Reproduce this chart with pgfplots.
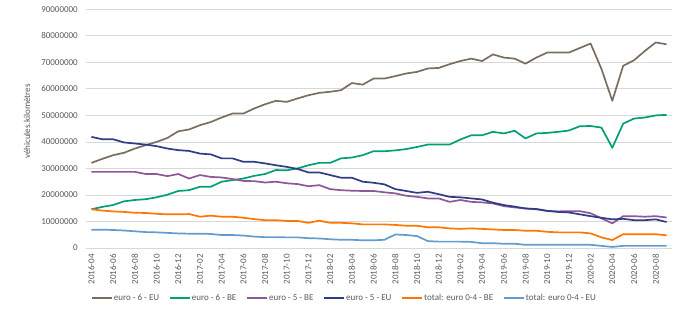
\documentclass[border=0pt]{standalone}
\usepackage{fontspec}
\setmainfont{Carlito}
\usepackage{pgfplots}
\usepackage{pgfplotstable}
\pgfplotsset{compat=1.18}
\definecolor{ceusix}{RGB}{122,110,96}
\definecolor{cbesix}{RGB}{0,160,118}
\definecolor{cbefive}{RGB}{140,88,152}
\definecolor{ceufive}{RGB}{48,60,132}
\definecolor{cbezf}{RGB}{255,118,0}
\definecolor{ceuzf}{RGB}{98,155,205}
\definecolor{txtgray}{RGB}{89,89,89}
\definecolor{gridgray}{RGB}{217,217,217}

\pgfplotstableread{
idx eusix besix befive eufive bezf euzf
0  32.1 14.6 28.7 41.9 14.6 6.9
1  33.6 15.5 28.7 41.0 14.1 6.9
2  35.0 16.2 28.7 41.0 13.8 6.8
3  35.9 17.6 28.7 39.8 13.6 6.6
4  37.5 18.1 28.7 39.4 13.3 6.3
5  38.8 18.4 27.9 39.0 13.2 6.0
6  40.0 19.1 27.9 38.4 12.9 5.9
7  41.5 20.1 27.1 37.5 12.7 5.7
8  44.0 21.5 27.9 36.9 12.7 5.5
9  44.7 21.8 26.2 36.6 12.8 5.4
10 46.3 23.1 27.5 35.6 11.8 5.4
11 47.5 23.1 26.8 35.3 12.2 5.3
12 49.2 25.0 26.6 33.8 11.8 4.9
13 50.7 25.6 26.0 33.8 11.8 4.9
14 50.7 26.2 25.3 32.5 11.4 4.7
15 52.6 27.2 25.2 32.5 10.9 4.3
16 54.2 27.9 24.7 31.9 10.5 4.1
17 55.5 29.4 25.0 31.2 10.5 4.1
18 55.1 29.3 24.4 30.6 10.2 4.0
19 56.4 30.0 24.1 29.8 10.2 4.0
20 57.6 31.2 23.3 28.5 9.5 3.7
21 58.5 32.1 23.7 28.5 10.3 3.6
22 58.9 32.1 22.2 27.5 9.5 3.3
23 59.5 33.8 21.8 26.5 9.5 3.1
24 62.2 34.1 21.6 26.5 9.3 3.1
25 61.6 35.0 21.5 25.0 8.9 2.9
26 63.9 36.5 21.5 24.6 8.9 2.9
27 63.9 36.5 21.0 24.0 8.9 3.1
28 64.8 36.8 20.6 22.2 8.7 5.1
29 65.8 37.3 19.7 21.5 8.4 4.9
30 66.4 38.1 19.3 20.8 8.4 4.5
31 67.7 39.0 18.7 21.2 7.8 2.6
32 67.9 39.0 18.7 20.3 7.8 2.4
33 69.3 39.0 17.4 19.3 7.4 2.4
34 70.5 40.9 18.1 19.1 7.2 2.4
35 71.4 42.5 17.4 18.7 7.4 2.3
36 70.5 42.5 17.2 18.3 7.2 1.8
37 73.0 43.8 16.8 17.1 7.0 1.8
38 71.8 43.2 15.8 16.2 6.8 1.6
39 71.4 44.2 15.3 15.6 6.8 1.6
40 69.5 41.3 14.9 14.9 6.5 1.2
41 71.8 43.2 14.6 14.7 6.5 1.2
42 73.7 43.4 14.0 14.0 6.1 1.2
43 73.7 43.8 13.8 13.6 5.9 1.2
44 73.7 44.3 13.9 13.4 5.9 1.2
45 75.4 45.9 13.9 12.7 5.9 1.2
46 77.1 46.0 13.1 12.0 5.5 1.2
47 67.5 45.4 11.2 11.4 4.0 0.8
48 55.5 37.8 9.3 10.8 3.0 0.4
49 68.7 46.9 12.0 11.0 5.2 0.8
50 70.8 48.8 12.0 10.5 5.2 0.8
51 74.3 49.2 11.8 10.5 5.2 0.8
52 77.5 50.0 12.0 10.8 5.2 0.8
53 76.8 50.2 11.5 9.8 4.8 0.8
}\datatable

\begin{document}
\begin{tikzpicture}
\path[use as bounding box] (-86pt,-87pt) rectangle (614pt,248pt);
\begin{axis}[
  at={(0pt,0pt)}, anchor=south west,
  scale only axis,
  width=586pt, height=238.7pt,
  xmin=-0.5, xmax=53.5,
  ymin=0, ymax=90,
  axis line style={draw=none},
  major tick length=0pt,
  ymajorgrids,
  grid style={gridgray, line width=0.8pt},
  xtick={0,2,...,52},
  xticklabels={2016-04,2016-06,2016-08,2016-10,2016-12,2017-02,2017-04,2017-06,2017-08,2017-10,2017-12,2018-02,2018-04,2018-06,2018-08,2018-10,2018-12,2019-02,2019-04,2019-06,2019-08,2019-10,2019-12,2020-02,2020-04,2020-06,2020-08},
  ytick={0,10,...,90},
  yticklabels={0,10000000,20000000,30000000,40000000,50000000,60000000,70000000,80000000,90000000},
  /pgf/number format/assume math mode=true,
  tick label style={font=\fontsize{9}{10}\selectfont, text=txtgray},
  xticklabel style={rotate=90, anchor=east, inner sep=0pt, yshift=0pt, xshift=-6pt},
  yticklabel style={anchor=east, inner sep=0pt, xshift=-8pt},
  ylabel={véhicules.kilomètres},
  ylabel style={at={(axis description cs:-0.1007,0.53)}, anchor=center, font=\fontsize{9}{10}\selectfont, text=txtgray},
  legend columns=6,
  legend cell align=left,
  legend style={draw=none, fill=none, inner sep=0pt, at={(axis description cs:0.0085,-0.2095)}, anchor=west,
    font=\fontsize{9}{10}\selectfont, text=txtgray,
    nodes={inner sep=1pt},
    /tikz/every even column/.append style={column sep=9pt},
    /tikz/every odd column/.append style={column sep=0pt}},
  legend image code/.code={\draw[#1] (0pt,0pt) -- (20pt,0pt);},
  every axis plot/.append style={line width=1.7pt, mark=none, line join=round},
]
\addplot[ceusix] table[x=idx,y=eusix]{\datatable};
\addlegendentry{euro - 6 - EU}
\addplot[cbesix] table[x=idx,y=besix]{\datatable};
\addlegendentry{euro - 6 - BE}
\addplot[cbefive] table[x=idx,y=befive]{\datatable};
\addlegendentry{euro - 5 - BE}
\addplot[ceufive] table[x=idx,y=eufive]{\datatable};
\addlegendentry{euro - 5 - EU}
\addplot[cbezf] table[x=idx,y=bezf]{\datatable};
\addlegendentry{total: euro 0-4 - BE}
\addplot[ceuzf] table[x=idx,y=euzf]{\datatable};
\addlegendentry{total: euro 0-4 - EU}
\end{axis}
\end{tikzpicture}
\end{document}
